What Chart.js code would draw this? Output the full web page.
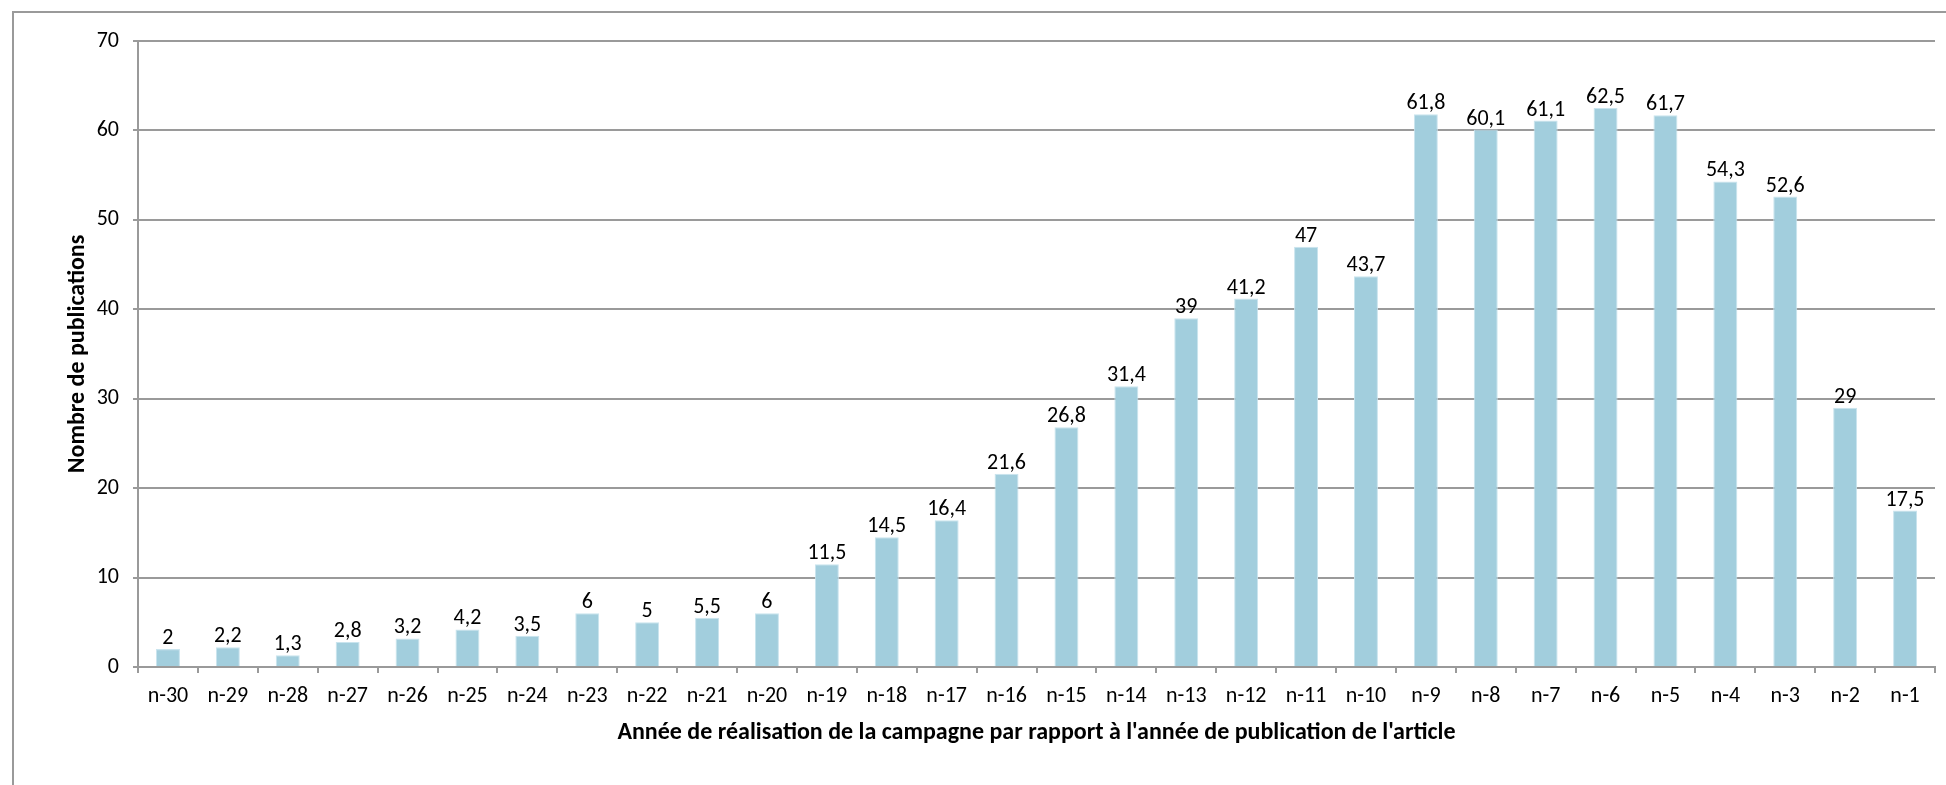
<!DOCTYPE html>
<html>
<head>
<meta charset="utf-8">
<title>Nombre de publications</title>
<script src="https://cdn.jsdelivr.net/npm/chart.js@4/dist/chart.umd.min.js"></script>
<style>
  html, body { margin: 0; padding: 0; background: #fff; overflow: hidden; }
  #frame {
    position: absolute; left: 12px; top: 11px;
    width: 2000px; height: 900px;
    border-left: 2px solid #9a9a9a; border-top: 2px solid #9a9a9a;
  }
  #wrap { position: absolute; left: 0; top: 0; width: 1946px; height: 785px; }
</style>
</head>
<body>
<div id="frame"></div>
<div id="wrap"><canvas id="chart"></canvas></div>
<script>
const labels = ['n-30', 'n-29', 'n-28', 'n-27', 'n-26', 'n-25', 'n-24', 'n-23', 'n-22', 'n-21',
  'n-20', 'n-19', 'n-18', 'n-17', 'n-16', 'n-15', 'n-14', 'n-13', 'n-12', 'n-11',
  'n-10', 'n-9', 'n-8', 'n-7', 'n-6', 'n-5', 'n-4', 'n-3', 'n-2', 'n-1'];
const publications = [2, 2.2, 1.3, 2.8, 3.2, 4.2, 3.5, 6, 5, 5.5,
  6, 11.5, 14.5, 16.4, 21.6, 26.8, 31.4, 39, 41.2, 47,
  43.7, 61.8, 60.1, 61.1, 62.5, 61.7, 54.3, 52.6, 29, 17.5];
const yTicks = [0, 10, 20, 30, 40, 50, 60, 70];

const FONT = 'Carlito, Lato, sans-serif';
const GRID = '#9a9a9a';

// value labels above bars, French decimal comma
const valueLabels = {
  id: 'valueLabels',
  afterDatasetsDraw(chart) {
    const ctx = chart.ctx;
    const meta = chart.getDatasetMeta(0);
    ctx.save();
    ctx.font = '22px ' + FONT;
    ctx.fillStyle = '#000';
    ctx.textAlign = 'center';
    ctx.textBaseline = 'alphabetic';
    meta.data.forEach((bar, i) => {
      const txt = String(publications[i]).replace('.', ',');
      ctx.fillText(txt, bar.x, bar.y - 5);
    });
    ctx.restore();
  }
};

new Chart(document.getElementById('chart'), {
  type: 'bar',
  data: {
    labels: labels,
    datasets: [{
      data: publications,
      backgroundColor: '#a2cedd',
      borderColor: '#c9e4ee',
      borderWidth: 1,
      barPercentage: 0.4,
      categoryPercentage: 1
    }]
  },
  options: {
    responsive: true,
    maintainAspectRatio: false,
    animation: false,
    layout: { padding: { left: 60, top: 41, right: 11, bottom: 0 } },
    plugins: { legend: { display: false }, tooltip: { enabled: false } },
    scales: {
      x: {
        afterFit(scale) { scale.height = 118; },
        grid: { display: true, drawOnChartArea: false, drawTicks: true, tickLength: 6, color: GRID, lineWidth: 2 },
        border: { display: true, color: GRID, width: 2 },
        ticks: { color: '#000', font: { family: FONT, size: 22 }, padding: 10, maxRotation: 0, autoSkip: false },
        title: {
          display: true,
          text: "Année de réalisation de la campagne par rapport à l'année de publication de l'article",
          color: '#000',
          font: { family: FONT, size: 24, weight: 'bold' },
          padding: { top: 0, bottom: 38 }
        }
      },
      y: {
        min: 0, max: 70,
        afterFit(scale) { scale.width = 78; },
        afterBuildTicks(scale) { scale.ticks = yTicks.map(v => ({ value: v })); },
        grid: { color: GRID, lineWidth: 2, tickLength: 5 },
        border: { display: true, color: GRID, width: 2 },
        ticks: { color: '#000', font: { family: FONT, size: 22 }, padding: 14 },
        title: {
          display: true,
          text: 'Nombre de publications',
          color: '#000',
          font: { family: FONT, size: 24, weight: 'bold' },
          padding: { top: 4, bottom: 4 }
        }
      }
    }
  },
  plugins: [valueLabels]
});
</script>
</body>
</html>
